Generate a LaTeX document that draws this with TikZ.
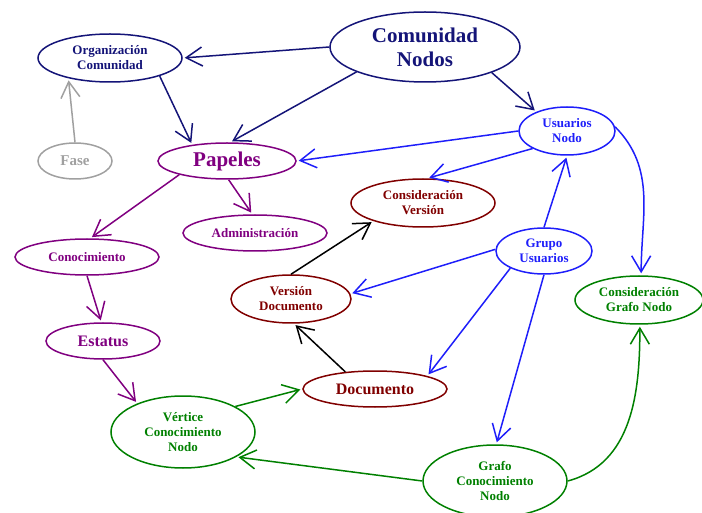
\documentclass[tikz,border=0pt]{standalone}
\usepackage{fontspec}
\setmainfont{Liberation Serif}
\usetikzlibrary{arrows.meta,shapes.geometric}
\definecolor{navyc}{RGB}{20,20,120}
\definecolor{bluec}{RGB}{30,30,250}
\definecolor{purplec}{RGB}{128,0,128}
\definecolor{maroonc}{RGB}{128,0,0}
\definecolor{greenc}{RGB}{0,128,0}
\definecolor{greyc}{RGB}{160,160,160}
\tikzset{
  concept/.style={ellipse, draw, line width=1.5pt, inner sep=0pt, align=center,
    font=\bfseries\fontsize{13}{15}\selectfont},
  bigtext/.style={font=\bfseries\fontsize{21}{24}\selectfont},
  midtext/.style={font=\bfseries\fontsize{16}{18}\selectfont},
  link/.style={line width=1.5pt, -{Straight Barb[length=16pt,width=19pt]}, shorten >=2pt},
}
\begin{document}
\begin{tikzpicture}[x=1pt,y=-1pt]
\useasboundingbox (0,0) rectangle (702,513);

% concepts
\node[concept, bigtext, navyc, minimum width=190, minimum height=70] (com) at (425,47) {Comunidad\\Nodos};
\node[concept, navyc, minimum width=144, minimum height=48] (org) at (110,58) {Organización\\Comunidad};
\node[concept, greyc, font=\bfseries\fontsize{15}{17}\selectfont, minimum width=74, minimum height=36] (fase) at (75,161) {Fase};
\node[concept, bigtext, purplec, minimum width=138, minimum height=36] (pap) at (227,161) {Papeles};
\node[concept, bluec, minimum width=96, minimum height=48] (usn) at (567,131) {Usuarios\\Nodo};
\node[concept, maroonc, minimum width=144, minimum height=48] (cv) at (423,203) {Consideración\\Versión};
\node[concept, purplec, minimum width=144, minimum height=36] (adm) at (255,233) {Administración};
\node[concept, purplec, minimum width=144, minimum height=36] (con) at (87,257) {Conocimiento};
\node[concept, bluec, minimum width=96, minimum height=46] (gu) at (544,251) {Grupo\\Usuarios};
\node[concept, maroonc, minimum width=120, minimum height=48] (vd) at (291,299) {Versión\\Documento};
\node[concept, greenc, minimum width=128, minimum height=48] (cgn) at (639,300) {Consideración\\Grafo Nodo};
\node[concept, midtext, purplec, minimum width=114, minimum height=36] (est) at (103,341) {Estatus};
\node[concept, midtext, maroonc, minimum width=144, minimum height=36] (doc) at (375,389) {Documento};
\node[concept, greenc, minimum width=144, minimum height=72] (vert) at (183,432) {Vértice\\Conocimiento\\Nodo};
\node[concept, greenc, minimum width=144, minimum height=72] (gcn) at (495,481) {Grafo\\Conocimiento\\Nodo};

% connectors
\draw[link, navyc] (com.180) -- (org.0);
\draw[link, navyc] (com.200) -- (pap.80);
\draw[link, navyc] (com.339) -- (usn.148);
\draw[link, navyc] (org.340) -- (pap.155);
\draw[link, greyc] (fase.north) -- (org.206);

\draw[link, bluec] (usn.180) -- (pap.0);
\draw[link, bluec] (usn.207) -- (cv.80);
\draw[link, bluec] (usn.5) to[out=-45, in=90] (cgn.85);
\draw[link, bluec] (gu.north) -- (usn.south);
\draw[link, bluec] (gu.178) -- (vd.5);
\draw[link, bluec] (gu.207) -- (doc.14);
\draw[link, bluec] (gu.south) -- (gcn.88);

\draw[link, purplec] (pap.196) -- (con.80);
\draw[link, purplec] (pap.275) -- (adm.98);
\draw[link, purplec] (con.south) -- (est.95);
\draw[link, purplec] (est.south) -- (vert.148);

\draw[link, greenc] (vert.26) -- (doc.180);
\draw[link, black] (doc.150) -- (vd.277);
\draw[link, black] (vd.north) -- (cv.200);
\draw[link, greenc] (gcn.180) -- (vert.335);
\draw[link, greenc] (gcn.0) to[out=15, in=-90] (cgn.272);
\end{tikzpicture}
\end{document}
